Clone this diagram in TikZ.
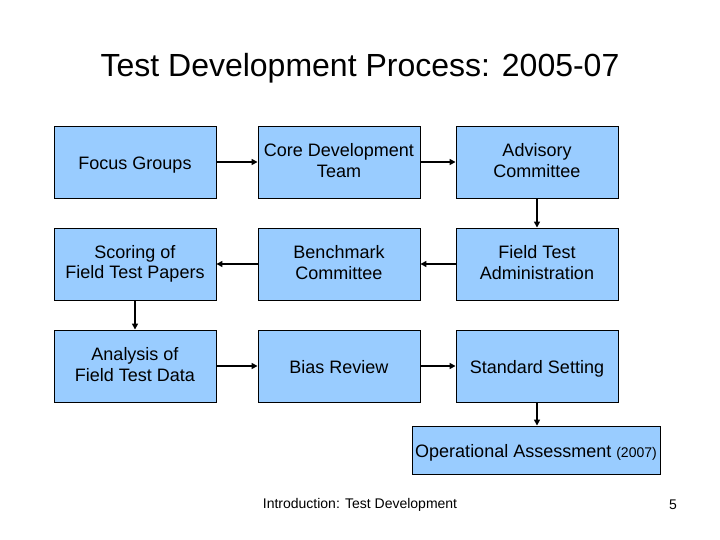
\documentclass[tikz,border=0pt]{standalone}
\usepackage{fontspec}
\setmainfont{Liberation Sans}
\usetikzlibrary{arrows.meta}
\definecolor{boxblue}{HTML}{99CCFF}
\newcommand{\vstrut}{\rule[-3pt]{0pt}{21pt}}
\tikzset{
  stage/.style={draw=black, line width=0.9pt, fill=boxblue, minimum width=162pt, minimum height=72pt, align=center, font=\fontsize{18}{20.5}\selectfont, inner sep=2pt, execute at begin node=\vstrut, execute at end node=\vstrut},
  flow/.style={line width=2pt, -{Triangle[length=6pt,width=6pt]}}
}
\begin{document}
\begin{tikzpicture}[x=1pt,y=-1pt]
\useasboundingbox (0,0) rectangle (720,540);
\fill[white] (0,0) rectangle (720,540);
\node (title) at (360,68) {\fontsize{32}{36}\selectfont Test Development Process: 2005-07};
\node[stage] (focus) at (135,162) {Focus Groups};
\node[stage] (core) at (339,162) {Core Development\\Team};
\node[stage] (adv) at (537,162) {Advisory\\Committee};
\node[stage] (score) at (135,264) {Scoring of\\Field Test Papers};
\node[stage] (bench) at (339,264) {Benchmark\\Committee};
\node[stage] (fta) at (537,264) {Field Test\\Administration};
\node[stage] (anal) at (135,366) {Analysis of\\Field Test Data};
\node[stage] (bias) at (339,366) {Bias Review};
\node[stage] (std) at (537,366) {Standard Setting};
\node[stage, minimum width=248pt, minimum height=48pt] (op) at (536,450) {Operational Assessment {\fontsize{14}{16}\selectfont(2007)}};
\draw[flow] (focus) -- (core);
\draw[flow] (core) -- (adv);
\draw[flow] (adv) -- (fta);
\draw[flow] (fta) -- (bench);
\draw[flow] (bench) -- (score);
\draw[flow] (score) -- (anal);
\draw[flow] (anal) -- (bias);
\draw[flow] (bias) -- (std);
\draw[flow] (std.south) -- (std.south |- op.north);
\node (foot) at (360,505) {\fontsize{14}{16}\selectfont Introduction: Test Development};
\node (page) at (673,505) {\fontsize{14}{16}\selectfont 5};
\end{tikzpicture}
\end{document}
